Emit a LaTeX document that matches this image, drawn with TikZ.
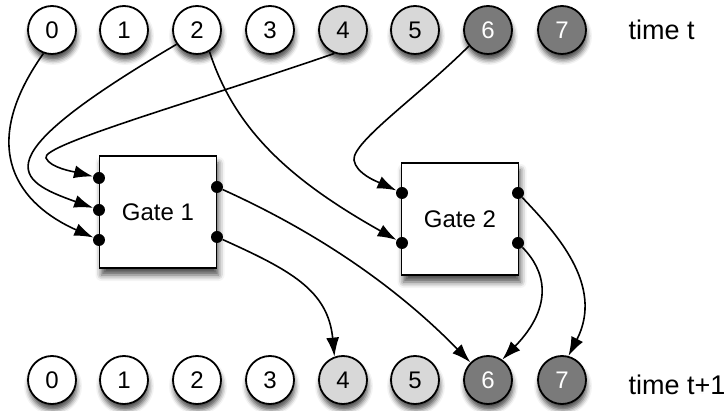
\documentclass[tikz,border=0pt]{standalone}
\usepackage{fontspec}
\setmainfont{Liberation Sans}
\usetikzlibrary{arrows.meta,shadows.blur}

\definecolor{lightcell}{HTML}{D8D8D8}
\definecolor{darkcell}{HTML}{7A7A7A}

\tikzset{
  cell/.style={circle,draw,line width=1.8pt,fill=white,minimum size=48pt,inner sep=0pt,
    font=\fontsize{24}{24}\selectfont,
    blur shadow={shadow xshift=1pt,shadow yshift=-6pt,shadow blur radius=5pt,shadow opacity=70}},
  gate/.style={draw,line width=1.8pt,fill=white,minimum width=117pt,minimum height=112pt,
    font=\fontsize{24}{24}\selectfont,
    blur shadow={shadow xshift=2pt,shadow yshift=-7pt,shadow blur radius=6pt,shadow opacity=70}},
  port/.style={circle,fill=black,inner sep=0pt,minimum size=12pt},
  wire/.style={line width=1.6pt,-{Latex[length=19pt,width=13pt]}}
}

\begin{document}
\begin{tikzpicture}[x=1pt,y=-1pt]
  \useasboundingbox (0,0) rectangle (724,411);

  % state at time t
  \begin{scope}[every node/.style={cell}]
    \node (t0) at (52,30)  {0};
    \node (t1) at (124,30) {1};
    \node (t2) at (197,30) {2};
    \node (t3) at (270,30) {3};
    \node[fill=lightcell] (t4) at (343,30) {4};
    \node[fill=lightcell] (t5) at (415,30) {5};
    \node[fill=darkcell,text=white] (t6) at (488,30) {6};
    \node[fill=darkcell,text=white] (t7) at (562,30) {7};
  \end{scope}

  % state at time t+1
  \begin{scope}[every node/.style={cell}]
    \node (b0) at (52,380)  {0};
    \node (b1) at (124,380) {1};
    \node (b2) at (197,380) {2};
    \node (b3) at (270,380) {3};
    \node[fill=lightcell] (b4) at (343,380) {4};
    \node[fill=lightcell] (b5) at (415,380) {5};
    \node[fill=darkcell,text=white] (b6) at (488,380) {6};
    \node[fill=darkcell,text=white] (b7) at (562,380) {7};
  \end{scope}

  \begin{scope}[every node/.style={anchor=base west,font=\fontsize{27}{27}\selectfont}]
    \node (tnow)  at (625,40)  {time t};
    \node (tnext) at (625,395) {time t+1};
  \end{scope}

  \node[gate] (g1) at (158,212) {Gate 1};
  \node[gate] (g2) at (460,219) {Gate 2};

  \begin{scope}[every node/.style={port}]
    \node (g1in1)  at (99,178)  {};
    \node (g1in2)  at (99,210)  {};
    \node (g1in3)  at (99,240)  {};
    \node (g1out1) at (217,187) {};
    \node (g1out2) at (217,237) {};
    \node (g2in1)  at (402,193) {};
    \node (g2in2)  at (402,243) {};
    \node (g2out1) at (518,193) {};
    \node (g2out2) at (518,243) {};
  \end{scope}

  % inputs
  \draw[wire] (t0.-110) .. controls (-25,150) and (20,205) .. (g1in3);
  \draw[wire] (t2.-145) .. controls (-20,160) and (15,180) .. (g1in2);
  \draw[wire] (t4.-110) .. controls (200,100) and (40,145) .. (46,158)
                        .. controls (50,168) and (75,172) .. (g1in1);
  \draw[wire] (t2.-60) .. controls (235,130) and (290,180) .. (g2in2);
  \draw[wire] (t6.-140) .. controls (420,95) and (352,142) .. (354,160)
                        .. controls (356,174) and (378,182) .. (g2in1);

  % outputs
  \draw[wire] (g1out1) .. controls (290,220) and (380,270) .. (b6.135);
  \draw[wire] (g1out2) .. controls (290,270) and (328,290) .. (b4.110);
  \draw[wire] (g2out2) .. controls (545,270) and (555,305) .. (b6.55);
  \draw[wire] (g2out1) .. controls (555,232) and (605,285) .. (b7.75);

\end{tikzpicture}
\end{document}
